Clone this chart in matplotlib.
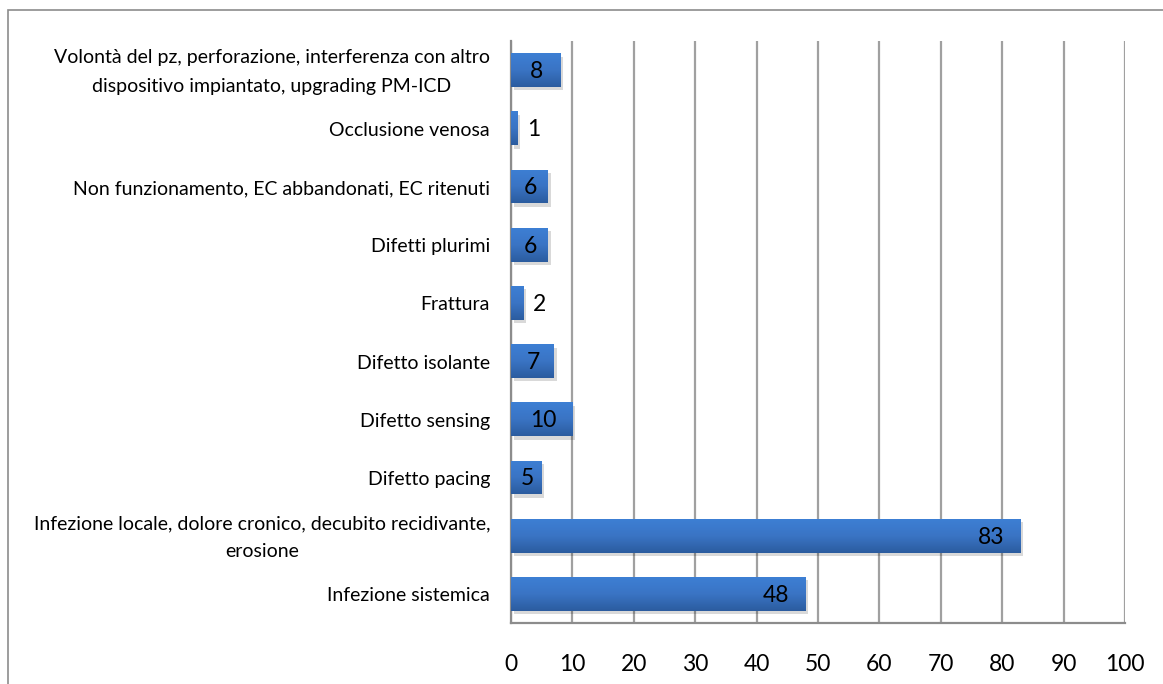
import matplotlib
matplotlib.use("Agg")
import matplotlib.pyplot as plt
import matplotlib.patheffects as pe
import matplotlib.transforms as mtransforms
from matplotlib.patches import Rectangle
from matplotlib.colors import LinearSegmentedColormap
import numpy as np

categories = [
    "Infezione sistemica",
    "Infezione locale, dolore cronico, decubito recidivante,\nerosione",
    "Difetto pacing",
    "Difetto sensing",
    "Difetto isolante",
    "Frattura",
    "Difetti plurimi",
    "Non funzionamento, EC abbandonati, EC ritenuti",
    "Occlusione venosa",
    "Volontà del pz, perforazione, interferenza con altro\ndispositivo impiantato, upgrading PM-ICD",
]
values = [48, 83, 5, 10, 7, 2, 6, 6, 1, 8]
xticks = [0, 10, 20, 30, 40, 50, 60, 70, 80, 90, 100]

plt.rcParams['font.family'] = ['Lato', 'DejaVu Sans']

fig = plt.figure(figsize=(11.63, 6.84), dpi=100)
ax = fig.add_axes([511/1163, 1-623/684, (1125-511)/1163, (623-41)/684])

# figure border
fig.patches.append(Rectangle((8/1163, -0.1), 1.2, 1-10/684+0.1, transform=fig.transFigure,
                             fill=False, edgecolor='#8c8c8c', linewidth=1.2))

y = np.arange(len(categories))
h = 0.58
bars = ax.barh(y, values, height=h, color='#3467b2', zorder=3,
               path_effects=[pe.SimplePatchShadow(offset=(2, -2.5), shadow_rgbFace='#000000', alpha=0.15),
                             pe.Normal()])

grad = np.linspace(0, 1, 100).reshape(-1, 1)
cmap = LinearSegmentedColormap.from_list('g', ['#3d7fd4', '#3a74c4', '#2b5c9f'])
for b in bars:
    x0, y0, w, hh = b.get_x(), b.get_y(), b.get_width(), b.get_height()
    im = ax.imshow(grad, cmap=cmap, aspect='auto', extent=(x0, x0 + w, y0, y0 + hh),
                   zorder=4, origin='upper')
    im.set_clip_path(b)

for yi, v in zip(y, values):
    if v < 3:
        ax.annotate(str(v), (v, yi), xytext=(7, -1), textcoords='offset points',
                    ha='left', va='center', fontsize=16.5, zorder=5)
    elif v <= 10:
        ax.annotate(str(v), (v / 2 + 0.2, yi), xytext=(0, -1), textcoords='offset points',
                    ha='center', va='center', fontsize=16.5, zorder=5)
    else:
        ax.annotate(str(v), (v, yi), xytext=(-12, -1), textcoords='offset points',
                    ha='right', va='center', fontsize=16.5, zorder=5)

ax.set_xlim(0, 100)
ax.set_ylim(-0.5, len(categories) - 0.5)
ax.set_xticks(xticks)
ax.set_xticklabels([str(t) for t in xticks], fontsize=16.5)
ax.set_yticks(y)
ax.set_yticklabels([])
trans = mtransforms.blended_transform_factory(ax.transAxes, ax.transData)
offset = mtransforms.ScaledTranslation(-21/100, -2/100, fig.dpi_scale_trans)
for yi, lab in zip(y, categories):
    ax.text(0, yi, lab, transform=trans + offset, ha='right', va='center',
            multialignment='center', fontsize=14, linespacing=1.8)
ax.tick_params(axis='x', length=0, pad=22)
ax.tick_params(axis='y', length=0)
ax.grid(axis='x', color='#a0a0a0', linewidth=1.6, zorder=0)
ax.set_axisbelow(True)
for s in ['top', 'right']:
    ax.spines[s].set_visible(False)
for s in ['left', 'bottom']:
    ax.spines[s].set_color('#8c8c8c')
    ax.spines[s].set_linewidth(1.6)

fig.savefig('out.png', dpi=100)
